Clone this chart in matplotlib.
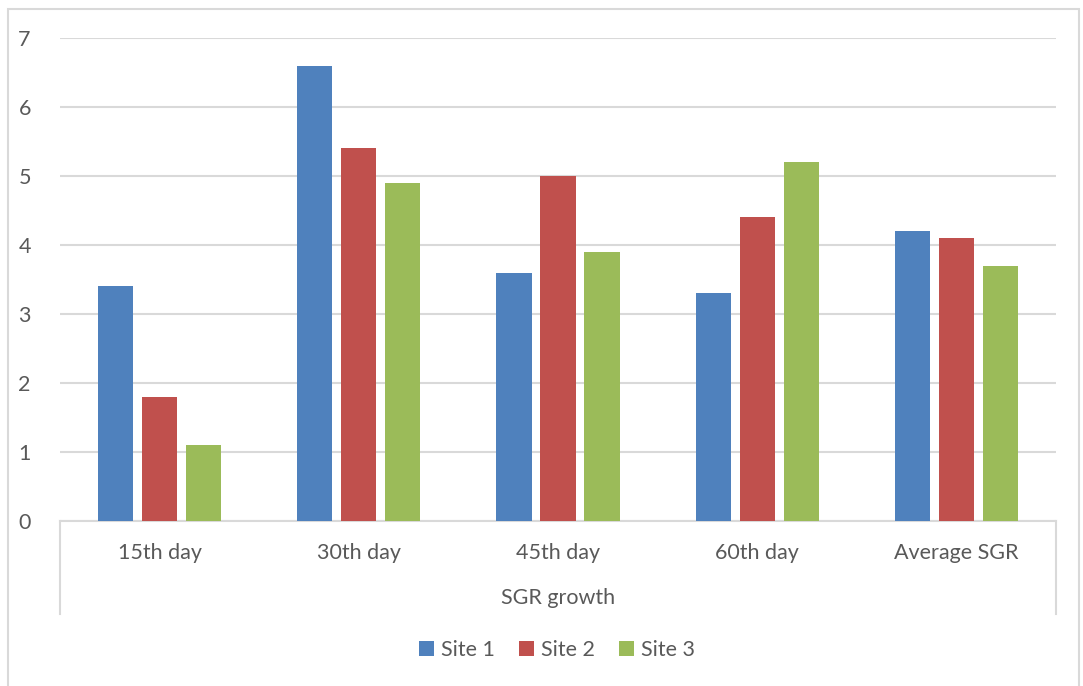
import matplotlib
matplotlib.use("Agg")
import matplotlib.pyplot as plt
from matplotlib.lines import Line2D
from matplotlib.patches import Rectangle, Patch
import numpy as np

categories = ["15th day", "30th day", "45th day", "60th day", "Average SGR"]
series_names = ["Site 1", "Site 2", "Site 3"]
site1 = [3.4, 6.6, 3.6, 3.3, 4.2]
site2 = [1.8, 5.4, 5.0, 4.4, 4.1]
site3 = [1.1, 4.9, 3.9, 5.2, 3.7]
group_title = "SGR growth"
y_ticks = [0, 1, 2, 3, 4, 5, 6, 7]

colors = ["#4F81BD", "#C0504D", "#9BBB59"]
text_color = "#595959"
grid_color = "#D9D9D9"
fs = 15.5

plt.rcParams["font.family"] = ["Lato", "DejaVu Sans"]

W, H = 1083, 686
fig = plt.figure(figsize=(W / 100, H / 100), dpi=100)

# chart frame
fig.patches.append(Rectangle((8 / W, -0.05), (1079 - 8) / W, (H - 9) / H + 0.05,
                             transform=fig.transFigure, fill=False,
                             edgecolor=grid_color, linewidth=1.5))

left, right, top, bottom = 60, 1056, 38, 521
ax = fig.add_axes([left / W, 1 - bottom / H, (right - left) / W, (bottom - top) / H])

x = np.arange(len(categories))
bar_w = 0.176
step = 0.221
for i, (vals, name) in enumerate(zip([site1, site2, site3], series_names)):
    ax.bar(x + (i - 1) * step, vals, width=bar_w, color=colors[i], label=name,
           zorder=3, linewidth=0)

ax.set_xlim(-0.5, len(categories) - 0.5)
ax.set_ylim(0, 7)
ax.set_yticks(y_ticks)
ax.yaxis.grid(True, color=grid_color, linewidth=1.5, zorder=0)
for s in ["top", "right", "left"]:
    ax.spines[s].set_visible(False)
ax.spines["bottom"].set_color(grid_color)
ax.spines["bottom"].set_linewidth(1.5)
ax.tick_params(axis="y", length=0, pad=21, labelsize=fs, labelcolor=text_color)
ax.set_xticks(x)
ax.set_xticklabels(categories)
ax.tick_params(axis="x", length=0, pad=16, labelsize=fs, labelcolor=text_color)

# outer category boundary lines
ext = (614 - bottom) / (bottom - top)
for xa in (0, 1):
    ax.add_line(Line2D([xa, xa], [0, -ext], transform=ax.transAxes, color=grid_color,
                       linewidth=1.5, clip_on=False))

fig.text((left + right) / 2 / W, 1 - 598 / H, group_title, ha="center", va="center",
         fontsize=fs, color=text_color)

handles = [Patch(facecolor=c, label=n) for c, n in zip(colors, series_names)]
fig.legend(handles=handles, loc="center", bbox_to_anchor=(557 / W, 1 - 650 / H), ncol=3,
           frameon=False, fontsize=fs, labelcolor=text_color, handlelength=0.7,
           handleheight=0.7, handletextpad=0.35, columnspacing=1.1)

fig.savefig("out.png", dpi=100)
